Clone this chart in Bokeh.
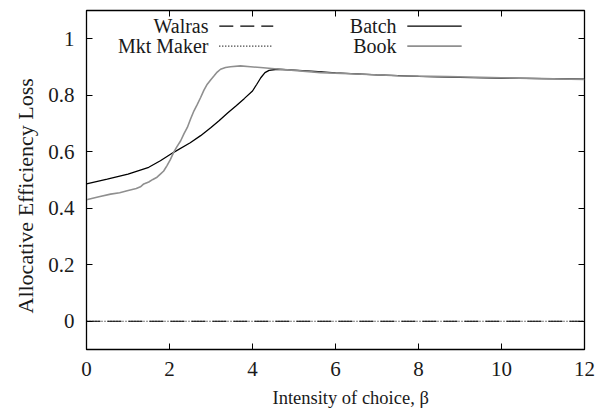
from bokeh.plotting import figure
from bokeh.models import LinearAxis, FixedTicker, Range1d, Label, Title
from bokeh.embed import file_html
from bokeh.resources import INLINE

# ---- data ----
zero_x = [0, 12]
walras_y = [0, 0]
mktmaker_y = [0, 0]

batch_x = [0, 0.5, 1.0, 1.5, 1.78, 2.1, 2.5, 2.75, 3.0, 3.2, 3.4, 3.6, 3.8, 4.0, 4.1, 4.2, 4.3, 4.4,
           4.6, 5.0, 5.5, 6, 7, 8, 9, 10, 11, 12]
batch_y = [0.486, 0.503, 0.521, 0.545, 0.568, 0.598, 0.632, 0.657, 0.686, 0.711, 0.737, 0.762, 0.788,
           0.815, 0.838, 0.862, 0.880, 0.888, 0.892, 0.889, 0.884, 0.879, 0.872, 0.867, 0.863, 0.861,
           0.859, 0.857]

book_x = [0, 0.3, 0.58, 0.8, 0.98, 1.2, 1.3, 1.38, 1.5, 1.6, 1.7, 1.78, 1.86, 1.94, 2.02, 2.1, 2.18,
          2.27, 2.35, 2.43, 2.51, 2.59, 2.67, 2.75, 2.83, 2.91, 3.0, 3.07, 3.15, 3.23, 3.35, 3.47, 3.71,
          3.95, 4.19, 4.6, 5.0, 5.64, 6.5, 7.5, 8.7, 10, 11, 12]
book_y = [0.430, 0.441, 0.450, 0.455, 0.462, 0.470, 0.476, 0.486, 0.493, 0.502, 0.510, 0.521, 0.532,
          0.551, 0.572, 0.598, 0.618, 0.639, 0.664, 0.686, 0.717, 0.745, 0.768, 0.792, 0.818, 0.839,
          0.856, 0.868, 0.882, 0.892, 0.898, 0.901, 0.904, 0.901, 0.898, 0.893, 0.888, 0.880, 0.875,
          0.869, 0.866, 0.862, 0.859, 0.856]

x_ticks = [0, 2, 4, 6, 8, 10, 12]
y_ticks = [0, 0.2, 0.4, 0.6, 0.8, 1]
y_tick_labels = ["0", "0.2", "0.4", "0.6", "0.8", "1"]
x_title = "Intensity of choice, β"
y_title = "Allocative Efficiency Loss"

FONT = "Liberation Serif"
TEXT_COLOR = "#1a1a1a"

p = figure(width=595, height=417, output_backend="svg", toolbar_location=None,
           x_range=Range1d(0, 12), y_range=Range1d(-0.1, 1.1),
           min_border_left=86, min_border_right=11, min_border_top=10, min_border_bottom=68)
p.grid.visible = False
p.outline_line_color = "black"
p.outline_line_width = 1.3
p.background_fill_color = "white"
p.border_fill_color = "white"

for ax in (p.xaxis[0], p.yaxis[0]):
    ax.major_label_text_font = FONT
    ax.major_label_text_font_size = "21px"
    ax.major_label_text_color = TEXT_COLOR
    ax.major_tick_in = 6
    ax.major_tick_out = 0
    ax.minor_tick_line_color = None
    ax.axis_line_color = "black"
    ax.major_tick_line_color = "black"
    ax.major_label_standoff = 12
p.xaxis[0].ticker = FixedTicker(ticks=x_ticks)
p.yaxis[0].ticker = FixedTicker(ticks=y_ticks)
p.yaxis[0].major_label_overrides = {float(v): s for v, s in zip(y_ticks, y_tick_labels)}

top = LinearAxis(ticker=FixedTicker(ticks=x_ticks),
                 major_label_overrides={float(v): "" for v in x_ticks},
                 major_tick_in=6, major_tick_out=0, minor_tick_line_color=None,
                 axis_line_color=None, major_label_standoff=0)
right = LinearAxis(ticker=FixedTicker(ticks=y_ticks),
                   major_label_overrides={float(v): "" for v in y_ticks},
                   major_tick_in=6, major_tick_out=0, minor_tick_line_color=None,
                   axis_line_color=None, major_label_standoff=0)
p.add_layout(top, "above")
p.add_layout(right, "right")

# axis titles as Titles so they can be offset like the reference
p.add_layout(Title(text=x_title, align="left", offset=186, text_font=FONT,
                   text_font_size="18.5px", text_font_style="normal", text_color=TEXT_COLOR,
                   standoff=14), "below")
p.add_layout(Title(text=y_title, align="left", offset=36, text_font=FONT,
                   text_font_size="22px", text_font_style="normal", text_color=TEXT_COLOR,
                   standoff=16), "left")

# zero lines
p.line(zero_x, walras_y, line_color="black", line_width=1.1, line_dash="14 7")
p.line(zero_x, mktmaker_y, line_color="black", line_width=1.1, line_dash="1 2")

# curves
p.line(batch_x, batch_y, line_color="black", line_width=1.3)
p.line(book_x, book_y, line_color="#8f8f8f", line_width=1.6)

# legend (label then sample, gnuplot style)
leg_rows_y = [1.045, 0.974]
col1_text_x = 2.94
col1_line = (3.2, 4.5)
col2_text_x = 7.47
col2_line = (7.73, 9.04)
legend_items = [
    ("Walras", col1_text_x, col1_line, leg_rows_y[0], "black", "14 7"),
    ("Mkt Maker", col1_text_x, col1_line, leg_rows_y[1], "black", "1 2"),
    ("Batch", col2_text_x, col2_line, leg_rows_y[0], "black", "solid"),
    ("Book", col2_text_x, col2_line, leg_rows_y[1], "#8f8f8f", "solid"),
]
for name, tx, (lx0, lx1), ly, col, dash in legend_items:
    p.add_layout(Label(x=tx, y=ly, text=name, text_align="right", text_baseline="middle",
                       text_font=FONT, text_font_size="20px", text_color=TEXT_COLOR))
    p.line([lx0, lx1], [ly, ly], line_color=col, line_width=1.3 if col == "black" else 1.6,
           line_dash=dash)

open("out.html", "w").write(file_html(p, INLINE))
